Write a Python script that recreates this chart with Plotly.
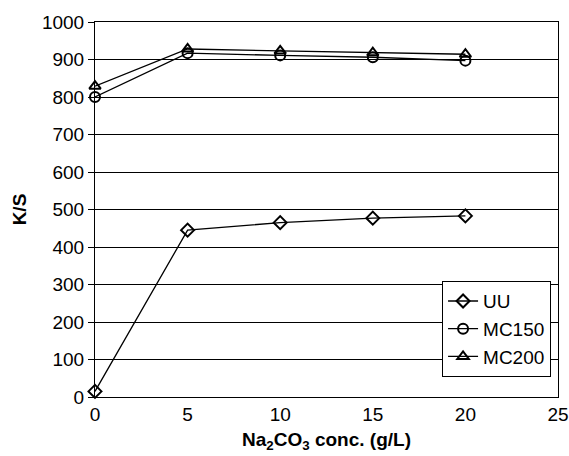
import plotly.graph_objects as go

conc = [0, 5, 10, 15, 20]
uu = [15, 445, 465, 477, 483]
mc150 = [800, 917, 911, 906, 897]
mc200 = [829, 928, 923, 918, 914]

series = [
    ("UU", uu, "diamond-open"),
    ("MC150", mc150, "circle-open"),
    ("MC200", mc200, "triangle-up-open"),
]

fig = go.Figure()
for name, vals, sym in series:
    fig.add_trace(go.Scatter(
        x=conc, y=vals, name=name, mode="lines+markers",
        line=dict(color="black", width=1.3),
        marker=dict(symbol=sym, size=10, color="black", line=dict(color="black", width=2)),
        cliponaxis=False,
    ))

font = "Liberation Sans, Arial, sans-serif"
fig.update_layout(
    width=569, height=456,
    margin=dict(l=95, r=11, t=22, b=59),
    paper_bgcolor="white", plot_bgcolor="white",
    font=dict(family=font, size=19, color="black"),
    showlegend=True,
    legend=dict(
        x=0.985, y=0.053, xanchor="right", yanchor="bottom",
        bordercolor="black", borderwidth=1, bgcolor="white",
        font=dict(size=19), tracegroupgap=0,
    ),
    xaxis=dict(
        range=[0, 25], tickvals=[0, 5, 10, 15, 20, 25], automargin=False,
        showgrid=False, zeroline=False, showline=True, linecolor="black",
        linewidth=1, mirror=True, ticks="",
        title=dict(text="<b>Na<sub>2</sub>CO<sub>3</sub> conc. (g/L)</b>", font=dict(size=19), standoff=8),
    ),
    yaxis=dict(
        range=[0, 1000], tickvals=list(range(0, 1001, 100)), automargin=False,
        showgrid=True, gridcolor="black", gridwidth=1,
        zeroline=False, showline=True, linecolor="black", linewidth=1, mirror=True,
        ticks="outside", ticklen=6, tickcolor="black",
        title=dict(text="<b>K/S</b>", font=dict(size=19), standoff=10),
    ),
)

fig.write_html("out.html")
